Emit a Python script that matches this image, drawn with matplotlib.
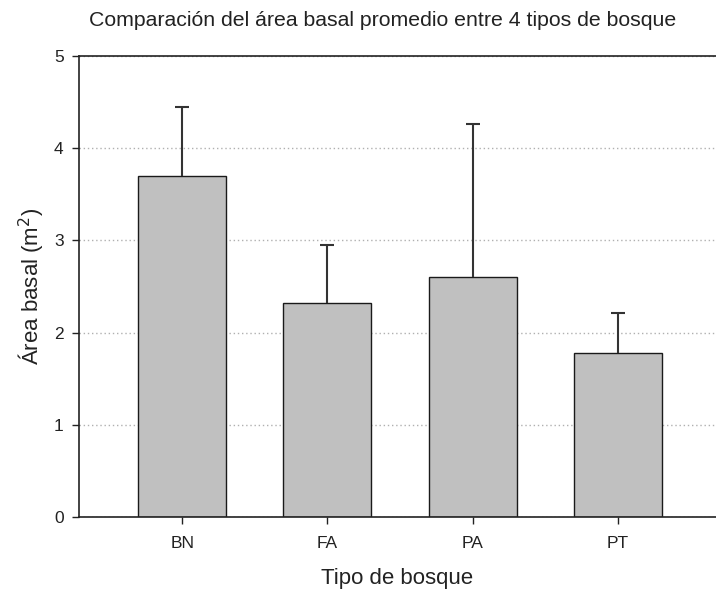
import numpy as np
import matplotlib.pyplot as plt

plt.rcParams['font.family'] = ['Liberation Sans', 'DejaVu Sans']

# Datos
tipos = ['BN', 'FA', 'PA', 'PT']
area_media = [3.70, 2.32, 2.60, 1.78]
error_sup = [0.75, 0.63, 1.66, 0.43]

fig = plt.figure(figsize=(7.16, 5.91), dpi=100)
ax = fig.add_axes([0.1103, 0.1252, 0.8897, 0.78])

x = np.arange(len(tipos))
ax.yaxis.grid(True, linestyle=(0, (1, 2)), color='#b0b0b0', linewidth=1.0, zorder=0)
ax.bar(x, area_media, width=0.606, color='#c0c0c0', edgecolor='#1a1a1a',
       linewidth=1.0, zorder=2)
eb = ax.errorbar(x, area_media, yerr=[np.zeros(len(x)), error_sup], fmt='none',
                 ecolor='#333333', elinewidth=1.5, capsize=4.7, capthick=1.5, zorder=3)
# solo la barra de error superior
eb[1][0].set_visible(False)

ax.set_xlim(-0.71, 3.674)
ax.set_ylim(0, 5)
ax.set_xticks(x)
ax.set_xticklabels(tipos)
ax.set_yticks([0, 1, 2, 3, 4, 5])
ax.tick_params(axis='both', direction='out', length=5, width=1, labelsize=12.5,
               colors='#222222')
ax.tick_params(axis='x', pad=9)
ax.tick_params(axis='y', pad=6)
ax.spines['right'].set_visible(False)
for s in ['left', 'top', 'bottom']:
    ax.spines[s].set_linewidth(1.2)
    ax.spines[s].set_color('#222222')

ax.set_xlabel('Tipo de bosque', fontsize=16, color='#222222', labelpad=12)
ax.set_ylabel('Área basal (m$^2$)', fontsize=16, color='#222222', labelpad=6)
fig.text(0.535, 0.966, 'Comparación del área basal promedio entre 4 tipos de bosque',
         ha='center', va='center', fontsize=15.3, color='#222222')

plt.savefig('out.png', dpi=100)
